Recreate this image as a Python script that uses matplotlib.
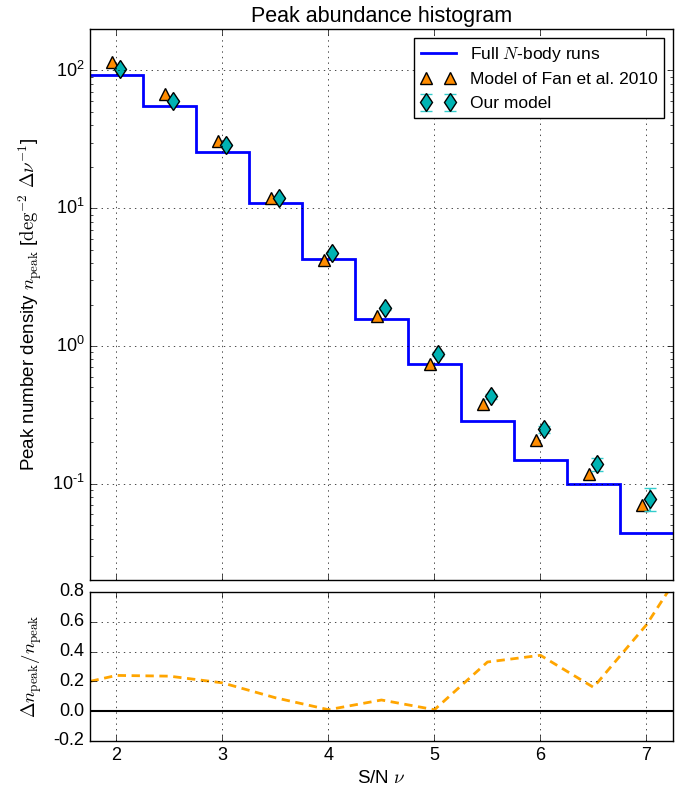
import numpy as np
import matplotlib
matplotlib.use("Agg")
import matplotlib.pyplot as plt
from matplotlib.ticker import FuncFormatter, LogLocator

# ---- data ----
bin_centers = [2.0, 2.5, 3.0, 3.5, 4.0, 4.5, 5.0, 5.5, 6.0, 6.5, 7.0]
nbody = [93, 55, 25.7, 10.9, 4.3, 1.56, 0.74, 0.284, 0.149, 0.099, 0.0437]
fan_model = [116, 67, 30.8, 11.8, 4.2, 1.64, 0.74, 0.377, 0.207, 0.118, 0.0695]
our_model = [103, 60, 28.8, 11.9, 4.75, 1.88, 0.875, 0.43, 0.249, 0.139, 0.078]
our_err = [1.5, 1.0, 0.5, 0.25, 0.1, 0.05, 0.03, 0.02, 0.014, 0.016, 0.015]
ratio_x = [1.5, 2.0, 2.5, 3.0, 3.5, 4.0, 4.5, 5.0, 5.5, 6.0, 6.5, 7.0, 7.5]
ratio_y = [0.16, 0.24, 0.235, 0.19, 0.09, 0.01, 0.075, 0.01, 0.33, 0.375, 0.16, 0.58, 1.13]
xticks = [2, 3, 4, 5, 6, 7]
ratio_ticks = [-0.2, 0.0, 0.2, 0.4, 0.6, 0.8]

plt.style.use('classic')
plt.rcParams['font.family'] = ['Liberation Sans', 'DejaVu Sans']
plt.rcParams['mathtext.fontset'] = 'cm'
plt.rcParams['axes.unicode_minus'] = False


def log_fmt(v, p):
    e = int(round(np.log10(v)))
    es = str(e).replace('-', '\u2010')
    return r'$\mathregular{10^{%s}}$' % es


fig = plt.figure(figsize=(6.92, 7.93), dpi=100, facecolor='white')
ax1 = fig.add_axes([0.130, 0.2686, 0.8425, 0.6948])
ax2 = fig.add_axes([0.130, 0.0656, 0.8425, 0.1879], sharex=ax1)

# step histogram
edges = [c - 0.25 for c in bin_centers] + [bin_centers[-1] + 0.25]
ax1.stairs(nbody, edges, color='b', lw=2, label=r'Full $N$-body runs', baseline=None)

xf = np.array(bin_centers) - 0.04
xo = np.array(bin_centers) + 0.03
ax1.plot(xf, fan_model, ls='none', marker='^', ms=9, mfc='#ff8c00', mec='k', mew=1,
         label='Model of Fan et al. 2010')
ax1.errorbar(xo, our_model, yerr=our_err, fmt='d', ms=9.5, mfc='#00b3b3', mec='k', mew=1,
             ecolor='#33cccc', elinewidth=1.5, capsize=4, capthick=1.5, label='Our model')

ax1.set_yscale('log')
ax1.set_xlim(1.75, 7.25)
ax1.set_ylim(0.02, 200)
ax1.yaxis.set_major_locator(LogLocator(base=10))
ax1.yaxis.set_major_formatter(FuncFormatter(log_fmt))
ax1.grid(True, ls=':', color='k')
ax1.set_title('Peak abundance histogram', fontsize=15.5)
ax1.set_ylabel(r'Peak number density $n_{\rm peak}$ [${\rm deg}^{-2}\ \Delta\nu^{-1}$]', fontsize=13.5)
ax1.tick_params(labelsize=13, labelbottom=False)
leg = ax1.legend(loc='upper right', fontsize=12.5, numpoints=2, frameon=True, fancybox=False)
leg.get_frame().set_edgecolor('k')

ax2.plot(ratio_x, ratio_y, ls='--', color='orange', lw=2, dashes=(6, 4))
ax2.axhline(0.0, color='k', lw=1.5)
ax2.set_ylim(-0.2, 0.8)
ax2.set_yticks(ratio_ticks)
ax2.set_xticks(xticks)
ax2.grid(True, ls=':', color='k')
ax2.set_xlabel(r'S/N $\nu$', fontsize=13.5)
ax2.set_ylabel(r'$\Delta n_{\rm peak}/n_{\rm peak}$', fontsize=13.5)
ax2.tick_params(labelsize=13)
ax2.set_xlim(1.75, 7.25)

ax1.yaxis.set_label_coords(-0.078, 0.5)
ax2.yaxis.set_label_coords(-0.078, 0.5)
fig.savefig('out.png', dpi=100, facecolor='white')
